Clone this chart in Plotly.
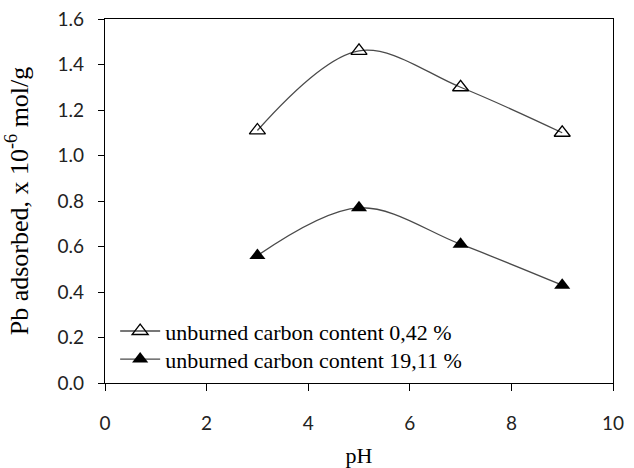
import plotly.graph_objects as go

ph = [3, 5, 7, 9]
low_carbon = [1.11, 1.46, 1.30, 1.10]
high_carbon = [0.56, 0.77, 0.61, 0.43]
names = ["unburned carbon content 0,42 %", "unburned carbon content 19,11 %"]

fig = go.Figure()
fig.add_trace(go.Scatter(
    x=ph, y=low_carbon, name=names[0], mode="lines+markers", legend="legend",
    line=dict(color="#4a4a4a", width=1.3, shape="spline", smoothing=1.0),
    marker=dict(symbol="triangle-up-open", size=14, color="black", line=dict(width=1.3, color="black")),
))
fig.add_trace(go.Scatter(
    x=ph, y=high_carbon, name=names[1], mode="lines+markers", legend="legend2",
    line=dict(color="#4a4a4a", width=1.3, shape="spline", smoothing=1.0),
    marker=dict(symbol="triangle-up", size=14, color="black"),
))

leg_common = dict(xanchor="left", yanchor="top",
                  font=dict(family="Liberation Serif", size=22, color="black"),
                  bgcolor="rgba(0,0,0,0)", itemwidth=40)

fig.update_layout(
    width=634, height=468,
    margin=dict(l=105, r=21, t=19, b=85),
    paper_bgcolor="white", plot_bgcolor="white",
    showlegend=True,
    legend=dict(x=0.02, y=0.20, **leg_common),
    legend2=dict(x=0.02, y=0.123, **leg_common),
    xaxis=dict(range=[0, 10], tickvals=[0, 2, 4, 6, 8, 10], ticks="outside", ticklen=7,
               tickcolor="black", linecolor="black", linewidth=1.3, mirror=True,
               showgrid=False, zeroline=False, ticklabelstandoff=16, automargin=False,
               tickfont=dict(family="Lato", size=19, color="#222"),
               title=dict(text="pH", font=dict(family="Liberation Serif", size=22, color="black"), standoff=14)),
    yaxis=dict(range=[0, 1.6], tickvals=[0, 0.2, 0.4, 0.6, 0.8, 1.0, 1.2, 1.4, 1.6],
               tickformat=".1f", ticks="outside", ticklen=6,
               tickcolor="black", linecolor="black", linewidth=1.3, mirror=True,
               showgrid=False, zeroline=False, ticklabelstandoff=10, automargin=False,
               tickfont=dict(family="Lato", size=19, color="#222"),
               title=dict(text="Pb adsorbed, x 10<sup>-6</sup> mol/g",
                          font=dict(family="Liberation Serif", size=26, color="black"), standoff=21)),
)

fig.write_html("out.html")
